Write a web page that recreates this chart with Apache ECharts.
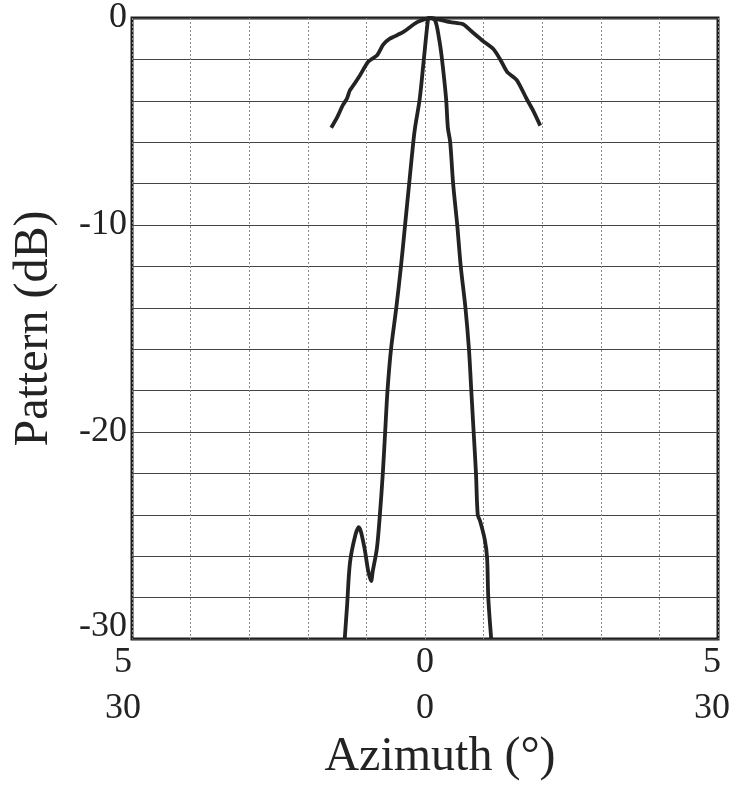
<!DOCTYPE html>
<html>
<head>
<meta charset="utf-8">
<script src="https://cdn.jsdelivr.net/npm/echarts@6/dist/echarts.min.js"></script>
<style>
  html, body { margin: 0; padding: 0; background: #fff; }
  #chart { width: 736px; height: 786px; }
</style>
</head>
<body>
<div id="chart"></div>
<script>
// narrow beam, azimuth in degrees on the +-5 scale
let narrowAz = [-1.37, -1.33, -1.28, -1.19, -1.13, -1.04, -0.97, -0.92, -0.89, -0.82, -0.77, -0.72, -0.68,
  -0.64, -0.58, -0.49, -0.41, -0.34, -0.27, -0.20, -0.17, -0.09, -0.02, 0.05, 0.07,
  0.17, 0.24, 0.29, 0.36, 0.39, 0.43, 0.48, 0.55, 0.61, 0.69, 0.75, 0.79, 0.83, 0.87, 0.90, 0.94,
  1.02, 1.06, 1.08, 1.13];
let narrowDb = [-30, -28.4, -26.3, -25.0, -24.6, -25.5, -26.7, -27.2, -26.7, -25.6, -24.0, -22.0, -20.0,
  -18.0, -16.0, -14.0, -12.0, -10.0, -8.0, -6.0, -5.3, -3.9, -2.0, -0.1, 0,
  -0.1, -1.0, -2.0, -3.9, -5.3, -6.0, -8.0, -10.0, -12.0, -14.0, -16.0, -18.0, -20.0, -22.0, -24.0, -24.3,
  -25.2, -26.1, -28.0, -30];

// wide beam, azimuth in degrees on the +-30 scale
let wideAz = [-9.6, -9.0, -8.4, -8.0, -7.7, -7.4, -6.7, -5.8, -4.9, -4.3, -3.6, -2.3, -0.8, 0.5,
  2.6, 3.9, 4.9, 5.9, 7.0, 7.7, 8.4, 9.4, 10.4, 11.1, 11.8];
let wideDb = [-5.3, -4.8, -4.2, -3.9, -3.5, -3.3, -2.8, -2.1, -1.8, -1.3, -1.0, -0.7, -0.2, 0,
  -0.2, -0.3, -0.7, -1.1, -1.5, -2.0, -2.6, -3.0, -3.9, -4.5, -5.2];

let narrowTicks = [-5, 0, 5];
let wideTicks = [-30, 0, 30];
let dbTicks = [0, -10, -20, -30];

let pairs = function (xs, ys) {
  let out = [];
  for (let i = 0; i < xs.length; i++) {
    out.push([xs[i], ys[i]]);
  }
  return out;
};

let font = "Liberation Serif";
let ink = "#232323";

// end labels sit a little left of the frame corners in the original
let edgeLabel = function (v, ticks) {
  if (ticks.indexOf(v) < 0) return "";
  let s = String(Math.abs(v));
  if (v < 0) return "{l|" + s + "}";
  if (v > 0) return "{r|" + s + "}";
  return s;
};
let edgeRich = {
  l: { fontFamily: font, fontSize: 36, color: ink, padding: [0, 18, 0, 0] },
  r: { fontFamily: font, fontSize: 36, color: ink, padding: [0, 12, 0, 0] },
};

var myChart = echarts.init(document.getElementById("chart"));

var option = {
  backgroundColor: "#ffffff",
  animation: false,
  grid: {
    left: 132,
    right: 18,
    top: 18,
    bottom: 136,
    show: true,
    borderColor: "#1e1e1e",
    borderWidth: 3,
  },
  xAxis: [
    {
      type: "value",
      min: -5,
      max: 5,
      interval: 1,
      position: "bottom",
      axisLine: { show: false },
      axisTick: { show: false },
      splitLine: {
        show: true,
        lineStyle: { color: "#8a8a8a", width: 1, type: [2, 2] },
      },
      axisLabel: {
        margin: 6,
        fontFamily: font,
        fontSize: 36,
        color: ink,
        formatter: function (v) {
          return edgeLabel(v, narrowTicks);
        },
        rich: edgeRich,
      },
      name: "Azimuth (°)",
      nameLocation: "middle",
      nameGap: 94,
      nameTextStyle: {
        fontFamily: font,
        fontSize: 48,
        color: ink,
        padding: [0, 0, 0, 30],
      },
    },
    {
      type: "value",
      min: -30,
      max: 30,
      interval: 30,
      position: "bottom",
      offset: 46,
      axisLine: { show: false },
      axisTick: { show: false },
      splitLine: { show: false },
      axisLabel: {
        margin: 6,
        fontFamily: font,
        fontSize: 36,
        color: ink,
        formatter: function (v) {
          return edgeLabel(v, wideTicks);
        },
        rich: edgeRich,
      },
    },
  ],
  yAxis: {
    type: "value",
    min: -30,
    max: 0,
    interval: 2,
    axisLine: { show: false },
    axisTick: { show: false },
    splitLine: {
      show: true,
      lineStyle: { color: "#444444", width: 1.2 },
    },
    axisLabel: {
      margin: 5,
      fontFamily: font,
      fontSize: 36,
      color: ink,
      formatter: function (v) {
        if (dbTicks.indexOf(v) < 0) return "";
        if (v === -30) return "{low|-30}";
        return String(v);
      },
      rich: {
        low: { fontFamily: font, fontSize: 36, color: ink, padding: [0, 0, 24, 0] },
      },
    },
    name: "Pattern (dB)",
    nameLocation: "middle",
    nameRotate: 90,
    nameGap: 74,
    nameTextStyle: {
      fontFamily: font,
      fontSize: 48,
      color: ink,
    },
  },
  series: [
    {
      name: "narrow",
      type: "line",
      xAxisIndex: 0,
      data: pairs(narrowAz, narrowDb),
      showSymbol: false,
      smooth: 0.3,
      lineStyle: { color: ink, width: 3.8 },
    },
    {
      name: "wide",
      type: "line",
      xAxisIndex: 1,
      data: pairs(wideAz, wideDb),
      showSymbol: false,
      smooth: 0.2,
      lineStyle: { color: ink, width: 3.8 },
    },
  ],
};

option && myChart.setOption(option);
</script>
</body>
</html>
